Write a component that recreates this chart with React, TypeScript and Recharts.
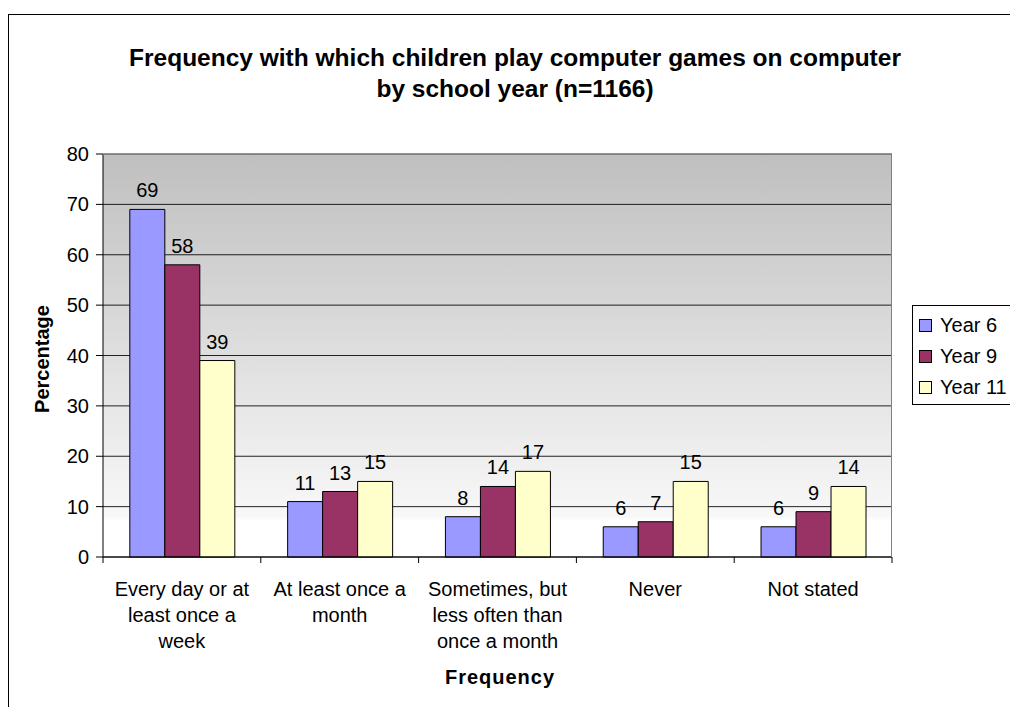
import React from 'react';
import { BarChart, Bar, XAxis, YAxis, CartesianGrid, LabelList } from 'recharts';

const categories = [
  'Every day or at least once a week',
  'At least once a month',
  'Sometimes, but less often than once a month',
  'Never',
  'Not stated',
];
const tickLines = [
  ['Every day or at', 'least once a', 'week'],
  ['At least once a', 'month'],
  ['Sometimes, but', 'less often than', 'once a month'],
  ['Never'],
  ['Not stated'],
];
const year6 = [69, 11, 8, 6, 6];
const year9 = [58, 13, 14, 7, 9];
const year11 = [39, 15, 17, 15, 14];
const yTicks = [0, 10, 20, 30, 40, 50, 60, 70, 80];

const series = [
  { key: 'y6', name: 'Year 6', color: '#9999ff' },
  { key: 'y9', name: 'Year 9', color: '#993366' },
  { key: 'y11', name: 'Year 11', color: '#ffffcc' },
];

const data = categories.map((name, i) => ({
  name,
  y6: year6[i],
  y9: year9[i],
  y11: year11[i],
}));

const FONT = '"Liberation Sans", Arial, sans-serif';
const STEP = (892 - 103) / categories.length; // width of one category band

const CategoryTick = (props: any) => {
  const { x, y, payload, index } = props;
  const lines = tickLines[index] || [payload.value];
  const left = x - STEP / 2;
  return (
    <g>
      <line x1={left} y1={y - 8} x2={left} y2={y - 2} stroke="#000" />
      {index === categories.length - 1 && (
        <line x1={x + STEP / 2} y1={y - 8} x2={x + STEP / 2} y2={y - 2} stroke="#000" />
      )}
      {lines.map((line, j) => (
        <text key={j} x={x} y={y + 31 + j * 26} textAnchor="middle" fontSize={20} fill="#000" fontFamily={FONT}>
          {line}
        </text>
      ))}
    </g>
  );
};

const App: React.FC = () => {
  return (
    <div style={{ position: 'absolute', left: 0, top: 0, width: 1010, height: 707, overflow: 'hidden', background: '#fff', fontFamily: FONT }}>
      <div style={{ position: 'absolute', left: 8, top: 14, width: 1100, height: 800, border: '1px solid #000' }} />
      <div style={{ position: 'absolute', left: 0, width: 1030, top: 42, textAlign: 'center', fontWeight: 'bold', fontSize: 24.5, lineHeight: '31px' }}>
        Frequency with which children play computer games on computer
        <br />
        by school year (n=1166)
      </div>
      <div style={{ position: 'absolute', left: 0, width: 1000, top: 666, textAlign: 'center', fontWeight: 'bold', fontSize: 20, letterSpacing: 1 }}>
        Frequency
      </div>
      <div style={{ position: 'absolute', left: 42, top: 359, transform: 'translate(-50%, -50%) rotate(-90deg)', fontWeight: 'bold', fontSize: 20, whiteSpace: 'nowrap' }}>
        Percentage
      </div>
      <BarChart
        width={1010}
        height={707}
        data={data}
        margin={{ top: 154, right: 118, bottom: 50, left: 43 }}
        barCategoryGap="17%"
        barGap={0}
        style={{ position: 'absolute', left: 0, top: 0 }}
      >
        <defs>
          <linearGradient id="plotBg" x1="0" y1="0" x2="0" y2="1">
            <stop offset="0%" stopColor="#bfbfbf" />
            <stop offset="90%" stopColor="#f8f8f8" />
            <stop offset="91%" stopColor="#ffffff" />
            <stop offset="100%" stopColor="#ffffff" />
          </linearGradient>
        </defs>
        <CartesianGrid vertical={false} stroke="#000" fill="url(#plotBg)" strokeOpacity={0.85} />
        <XAxis dataKey="name" interval={0} height={100} tickLine={false} axisLine={{ stroke: '#000' }} tick={<CategoryTick />} />
        <YAxis
          domain={[0, 80]}
          ticks={yTicks}
          width={60}
          tickSize={7}
          tickMargin={7}
          axisLine={{ stroke: '#000' }}
          tickLine={{ stroke: '#000' }}
          tick={{ fill: '#000', fontSize: 20, fontFamily: FONT }}
        />
        {series.map((s) => (
          <Bar key={s.key} dataKey={s.key} name={s.name} fill={s.color} stroke="#000" isAnimationActive={false}>
            <LabelList dataKey={s.key} position="top" offset={12} fill="#000" fontSize={20} fontFamily={FONT} />
          </Bar>
        ))}
      </BarChart>
      <div style={{ position: 'absolute', left: 103, top: 154, width: 789, height: 403, borderTop: '1px solid #808080', borderRight: '1px solid #808080', boxSizing: 'border-box', pointerEvents: 'none' }} />
      <div style={{ position: 'absolute', left: 912, top: 305, width: 130, height: 100, border: '1px solid #000', background: '#fff', boxSizing: 'border-box', paddingTop: 4 }}>
        {series.map((s) => (
          <div key={s.key} style={{ display: 'flex', alignItems: 'center', height: 31, paddingLeft: 6, fontSize: 20, whiteSpace: 'nowrap' }}>
            <span style={{ display: 'inline-block', width: 11, height: 11, background: s.color, border: '1px solid #000', marginRight: 8 }} />
            {s.name}
          </div>
        ))}
      </div>
    </div>
  );
};

export default App;
